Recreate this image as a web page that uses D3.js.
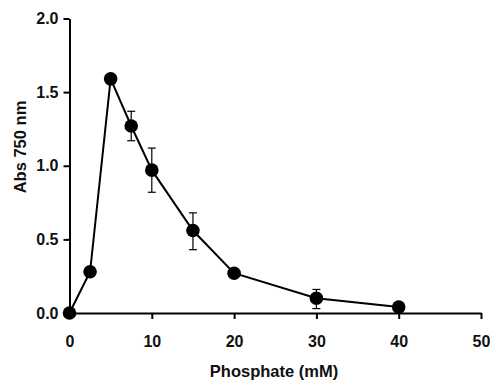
<!DOCTYPE html>
<html>
<head>
<meta charset="utf-8">
<script src="https://cdn.jsdelivr.net/npm/d3@7"></script>
<style>
  body { margin: 0; background: #fff; }
  text { font-family: "Liberation Sans", Arial, sans-serif; font-weight: bold; fill: #111; }
</style>
</head>
<body>
<svg id="chart" width="491" height="383"></svg>
<script>
// data
const phosphate = [0, 2.5, 5, 7.5, 10, 15, 20, 30, 40];
const absorbance = [0.0, 0.28, 1.59, 1.27, 0.97, 0.56, 0.27, 0.10, 0.04];
const errLow = [0, 0, 0, 0.10, 0.15, 0.13, 0, 0.07, 0];
const errHigh = [0, 0, 0, 0.10, 0.15, 0.12, 0, 0.06, 0];
const xTicks = [0, 10, 20, 30, 40, 50];
const yTicks = [0, 0.5, 1.0, 1.5, 2.0];

const svg = d3.select('#chart');

const x = d3.scaleLinear().domain([0, 50]).range([69.5, 481]);
const y = d3.scaleLinear().domain([0, 2]).range([313, 18.5]);

// axes
const xAxis = svg.append('g')
    .attr('transform', `translate(0,${y(0)})`)
    .call(d3.axisBottom(x).tickValues(xTicks).tickSize(6).tickSizeOuter(0).tickPadding(17).tickFormat(d3.format('d')));
const yAxis = svg.append('g')
    .attr('transform', `translate(${x(0)},0)`)
    .call(d3.axisLeft(y).tickValues(yTicks).tickSize(6).tickSizeOuter(0).tickPadding(5).tickFormat(d3.format('.1f')));

[xAxis, yAxis].forEach(g => {
    g.selectAll('path, line').attr('stroke', '#000').attr('stroke-width', 2);
    g.selectAll('text').attr('font-size', '16px').attr('font-family', '"Liberation Sans", Arial, sans-serif').attr('font-weight', 'bold').attr('fill', '#111');
});

// line
const line = d3.line().x((d, i) => x(phosphate[i])).y(d => y(d));
svg.append('path')
    .datum(absorbance)
    .attr('d', line)
    .attr('fill', 'none')
    .attr('stroke', '#000')
    .attr('stroke-width', 2);

// error bars
const errData = phosphate.map((p, i) => ({ p, v: absorbance[i], lo: errLow[i], hi: errHigh[i] }))
    .filter(d => d.lo > 0 || d.hi > 0);
const eb = svg.selectAll('.err').data(errData).enter().append('g').attr('class', 'err')
    .attr('stroke', '#000').attr('stroke-width', 1.2);
eb.append('line')
    .attr('x1', d => x(d.p)).attr('x2', d => x(d.p))
    .attr('y1', d => y(d.v + d.hi)).attr('y2', d => y(d.v - d.lo));
eb.append('line')
    .attr('x1', d => x(d.p) - 4).attr('x2', d => x(d.p) + 4)
    .attr('y1', d => y(d.v + d.hi)).attr('y2', d => y(d.v + d.hi));
eb.append('line')
    .attr('x1', d => x(d.p) - 4).attr('x2', d => x(d.p) + 4)
    .attr('y1', d => y(d.v - d.lo)).attr('y2', d => y(d.v - d.lo));

// markers
svg.selectAll('.pt')
    .data(absorbance)
    .enter().append('circle')
    .attr('class', 'pt')
    .attr('cx', (d, i) => x(phosphate[i]))
    .attr('cy', d => y(d))
    .attr('r', 6.8)
    .attr('fill', '#000');

// axis titles
svg.append('text')
    .attr('x', 274)
    .attr('y', 377)
    .attr('text-anchor', 'middle')
    .attr('font-size', '16.5px')
    .text('Phosphate (mM)');
svg.append('text')
    .attr('transform', 'translate(26,147) rotate(-90)')
    .attr('text-anchor', 'middle')
    .attr('font-size', '16.5px')
    .text('Abs 750 nm');
</script>
</body>
</html>
